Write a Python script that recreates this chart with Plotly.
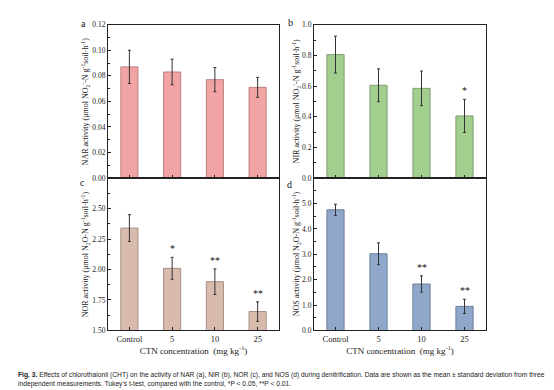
import plotly.graph_objects as go

categories = ["Control", "5", "10", "25"]

nar_mean = [0.087, 0.083, 0.077, 0.071]
nar_sd = [0.013, 0.010, 0.0095, 0.0078]
nar_sig = ["", "", "", ""]

nir_mean = [0.805, 0.605, 0.585, 0.405]
nir_sd = [0.120, 0.107, 0.113, 0.108]
nir_sig = ["", "", "", "*"]

nor_mean = [2.34, 2.01, 1.90, 1.655]
nor_sd = [0.11, 0.09, 0.105, 0.08]
nor_sig = ["", "*", "**", "**"]

nos_mean = [4.75, 3.02, 1.83, 0.95]
nos_sd = [0.22, 0.43, 0.32, 0.28]
nos_sig = ["", "", "**", "**"]

W, H = 554, 390
SERIF = "Liberation Serif"

panels = [
    dict(name="a", mean=nar_mean, sd=nar_sd, sig=nar_sig, color="#F2A3A3", edge="#B98282",
         px=(100, 271), py=(13, 170), rng=[0, 0.12], dtick=0.02, fmt=".2f", hidetop=False,
         title="NAR activity (μmol NO<sub>2</sub><sup>-</sup>-N g<sup>-1</sup>soil·h<sup>-1</sup>)",
         xlabels=False, letter_xy=(75, 12), title_x=77),
    dict(name="b", mean=nir_mean, sd=nir_sd, sig=nir_sig, color="#A3CF8E", edge="#7F9E71",
         px=(306, 478), py=(13, 170), rng=[0, 1.0], dtick=0.2, fmt=".1f", hidetop=False,
         title="NIR activity (μmol NO<sub>2</sub><sup>-</sup>-N g<sup>-1</sup>soil·h<sup>-1</sup>)",
         xlabels=False, letter_xy=(282, 11), title_x=288),
    dict(name="c", mean=nor_mean, sd=nor_sd, sig=nor_sig, color="#D8BBAC", edge="#A48E83",
         px=(100, 271), py=(170, 326), rng=[1.5, 2.75], dtick=0.25, fmt=".2f", hidetop=True,
         title="NOR activity (μmol N<sub>2</sub>O-N g<sup>-1</sup>soil·h<sup>-1</sup>)",
         xlabels=True, letter_xy=(74, 175), title_x=77),
    dict(name="d", mean=nos_mean, sd=nos_sd, sig=nos_sig, color="#8EA7CB", edge="#6C7E99",
         px=(306, 478), py=(170, 326), rng=[0, 6.0], dtick=1.0, fmt=".1f", hidetop=True,
         title="NOS activity (μmol N<sub>2</sub>O-N g<sup>-1</sup>soil·h<sup>-1</sup>)",
         xlabels=True, letter_xy=(281, 177), title_x=288),
]

fig = go.Figure()
annotations = []
layout = {}

for i, p in enumerate(panels):
    idx = "" if i == 0 else str(i + 1)
    xa, ya = "x" + idx, "y" + idx
    fig.add_trace(go.Bar(
        x=categories, y=p["mean"], width=0.4,
        marker=dict(color=p["color"], line=dict(color=p["edge"], width=1)),
        error_y=dict(type="data", array=p["sd"], color="#333333", thickness=1, width=1.5),
        xaxis=xa, yaxis=ya, showlegend=False,
    ))
    x0, x1 = p["px"][0] / W, p["px"][1] / W
    y0, y1 = 1 - p["py"][1] / H, 1 - p["py"][0] / H
    lo, hi = p["rng"]
    n = int(round((hi - lo) / p["dtick"]))
    vals = [lo + k * p["dtick"] for k in range(n + 1)]
    if p["hidetop"]:
        vals = vals[:-1]
    layout["xaxis" + idx] = dict(
        domain=[x0, x1], anchor=ya, range=[-0.5, 3.5], type="category",
        showline=True, linecolor="#222", linewidth=1.2, mirror=True,
        ticks="inside", ticklen=3, tickcolor="#222",
        showticklabels=p["xlabels"], tickfont=dict(family=SERIF, size=8.5, color="#222"),
        showgrid=False, zeroline=False,
        title=dict(text="CTN concentration  (mg kg<sup>-1</sup>)", font=dict(family=SERIF, size=9, color="#222"), standoff=2) if p["xlabels"] else None,
    )
    layout["yaxis" + idx] = dict(
        domain=[y0, y1], anchor=xa, range=p["rng"],
        tickvals=vals, ticktext=[format(v, p["fmt"]) for v in vals],
        showline=True, linecolor="#222", linewidth=1.2, mirror=True,
        ticks="inside", ticklen=3, tickcolor="#222",
        minor=dict(ticks="inside", ticklen=2, dtick=p["dtick"] / 2, tickcolor="#222", showgrid=False),
        tickfont=dict(family=SERIF, size=7.5, color="#222"),
        showgrid=False, zeroline=False,
    )
    # y title
    annotations.append(dict(
        text=p["title"], xref="paper", yref="paper",
        x=p["title_x"] / W, y=(y0 + y1) / 2, textangle=-90,
        showarrow=False, font=dict(family=SERIF, size=8, color="#222"),
        xanchor="center", yanchor="middle",
    ))
    # panel letter
    annotations.append(dict(
        text=p["name"], xref="paper", yref="paper",
        x=p["letter_xy"][0] / W, y=1 - p["letter_xy"][1] / H,
        showarrow=False, font=dict(family=SERIF, size=10, color="#111"),
        xanchor="center", yanchor="middle",
    ))
    # significance stars (positioned by category index on the category axis)
    for k, (m, s, g) in enumerate(zip(p["mean"], p["sd"], p["sig"])):
        if g:
            annotations.append(dict(
                text=g, x=k, y=m + s, xref=xa, yref=ya, showarrow=False,
                xanchor="center", yanchor="bottom", yshift=1,
                font=dict(family=SERIF, size=10, color="#111"),
            ))

caption = ("<b>Fig. 3.</b> Effects of chlorothalonil (CHT) on the activity of NAR (a), NIR (b), NOR (c), and NOS (d) during denitrification. "
           "Data are shown as the mean ± standard deviation from three<br>independent measurements. "
           "Tukey's t-test, compared with the control, *P &lt; 0.05, **P &lt; 0.01.")
annotations.append(dict(
    text=caption, xref="paper", yref="paper", x=8 / W, y=1 - 365 / H,
    showarrow=False, align="left", xanchor="left", yanchor="top",
    font=dict(family="Liberation Sans", size=6.7, color="#222"),
))

fig.update_layout(
    width=W, height=H, margin=dict(l=0, r=0, t=0, b=0),
    paper_bgcolor="white", plot_bgcolor="white",
    annotations=annotations, bargap=0.6, **layout,
)

fig.write_html("out.html")
